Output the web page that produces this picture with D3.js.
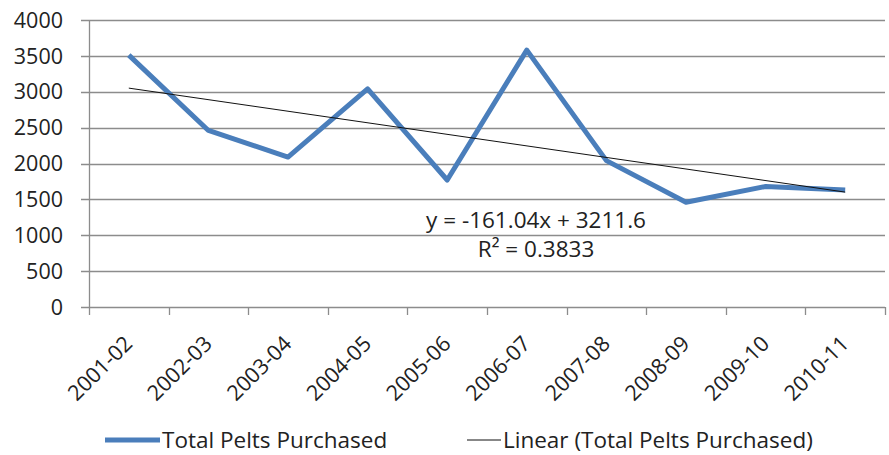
<!DOCTYPE html>
<html>
<head>
<meta charset="utf-8">
<script src="https://cdn.jsdelivr.net/npm/d3@7"></script>
<style>
  body { margin: 0; background: #fff; }
  text { font-family: "Open Sans", sans-serif; fill: #222; }
</style>
</head>
<body>
<div id="chart"></div>
<script>
// data
const seasons = ['2001-02', '2002-03', '2003-04', '2004-05', '2005-06',
                 '2006-07', '2007-08', '2008-09', '2009-10', '2010-11'];
const pelts = [3510, 2460, 2090, 3040, 1770, 3580, 2040, 1460, 1680, 1630];
const yTicks = [0, 500, 1000, 1500, 2000, 2500, 3000, 3500, 4000];
const trendCoef = [-161.04, 3211.6]; // slope, intercept (x = 1..10)
const trendLabels = ['y = -161.04x + 3211.6', 'R² = 0.3833'];
const legendLabels = ['Total Pelts Purchased', 'Linear (Total Pelts Purchased)'];

const config = {
    width: 889,
    height: 455,
    padding: { left: 89, top: 20, right: 4, bottom: 148 }
};

const svg = d3.select('#chart')
    .append('svg')
    .attr('width', config.width)
    .attr('height', config.height);

const x = d3.scaleBand()
    .domain(seasons)
    .range([config.padding.left, config.width - config.padding.right]);

const y = d3.scaleLinear()
    .domain([0, 4000])
    .range([config.height - config.padding.bottom, config.padding.top]);

const gridColor = '#8c8c8c';

// gridlines
svg.append('g')
    .selectAll('line')
    .data(yTicks)
    .enter()
    .append('line')
    .attr('x1', x.range()[0] - 8)
    .attr('x2', x.range()[1])
    .attr('y1', d => Math.round(y(d)) + 0.5)
    .attr('y2', d => Math.round(y(d)) + 0.5)
    .attr('stroke', gridColor)
    .attr('stroke-width', 1.3);

// y axis line
svg.append('line')
    .attr('x1', x.range()[0] + 0.5)
    .attr('x2', x.range()[0] + 0.5)
    .attr('y1', y(4000))
    .attr('y2', y(0))
    .attr('stroke', gridColor)
    .attr('stroke-width', 1.3);

// y labels
svg.append('g')
    .selectAll('text')
    .data(yTicks)
    .enter()
    .append('text')
    .attr('x', 63)
    .attr('y', d => y(d))
    .attr('dy', '0.36em')
    .attr('text-anchor', 'end')
    .style('font-size', '21.5px')
    .text(d => d);

// x ticks at category boundaries
const bounds = seasons.map(s => x(s)).concat([x.range()[1]]);
svg.append('g')
    .selectAll('line')
    .data(bounds)
    .enter()
    .append('line')
    .attr('x1', d => Math.round(d) + 0.5)
    .attr('x2', d => Math.round(d) + 0.5)
    .attr('y1', y(0))
    .attr('y2', y(0) + 8)
    .attr('stroke', gridColor)
    .attr('stroke-width', 1.3);

// x labels rotated
const cx = d => x(d) + x.bandwidth() / 2;
svg.append('g')
    .selectAll('text')
    .data(seasons)
    .enter()
    .append('text')
    .attr('transform', d => `translate(${cx(d) + 5}, ${y(0) + 38}) rotate(-45)`)
    .attr('text-anchor', 'end')
    .style('font-size', '21.5px')
    .text(d => d);

// data line
const line = d3.line()
    .x((d, i) => cx(seasons[i]))
    .y(d => y(d));

svg.append('path')
    .datum(pelts)
    .attr('d', line)
    .attr('fill', 'none')
    .attr('stroke', '#4a7ebb')
    .attr('stroke-width', 5)
    .attr('stroke-linejoin', 'round');

// linear trend
const trend = [1, seasons.length].map(i => ({ s: seasons[i - 1], v: trendCoef[0] * i + trendCoef[1] }));
svg.append('line')
    .attr('x1', cx(trend[0].s))
    .attr('y1', y(trend[0].v))
    .attr('x2', cx(trend[1].s))
    .attr('y2', y(trend[1].v))
    .attr('stroke', '#111')
    .attr('stroke-width', 1);

// equation label
svg.append('g')
    .selectAll('text')
    .data(trendLabels)
    .enter()
    .append('text')
    .attr('x', 536)
    .attr('y', (d, i) => 228 + i * 29)
    .attr('text-anchor', 'middle')
    .style('font-size', '22.5px')
    .text(d => d);

// legend
const legend = svg.append('g').attr('transform', 'translate(0, 440)');
legend.append('line')
    .attr('x1', 105).attr('x2', 160)
    .attr('stroke', '#4a7ebb').attr('stroke-width', 5);
legend.append('text')
    .attr('x', 162).attr('dy', '0.36em')
    .style('font-size', '22.5px')
    .text(legendLabels[0]);
legend.append('line')
    .attr('x1', 467).attr('x2', 501)
    .attr('stroke', '#111').attr('stroke-width', 1);
legend.append('text')
    .attr('x', 503).attr('dy', '0.36em')
    .style('font-size', '22.5px')
    .text(legendLabels[1]);
</script>
</body>
</html>
